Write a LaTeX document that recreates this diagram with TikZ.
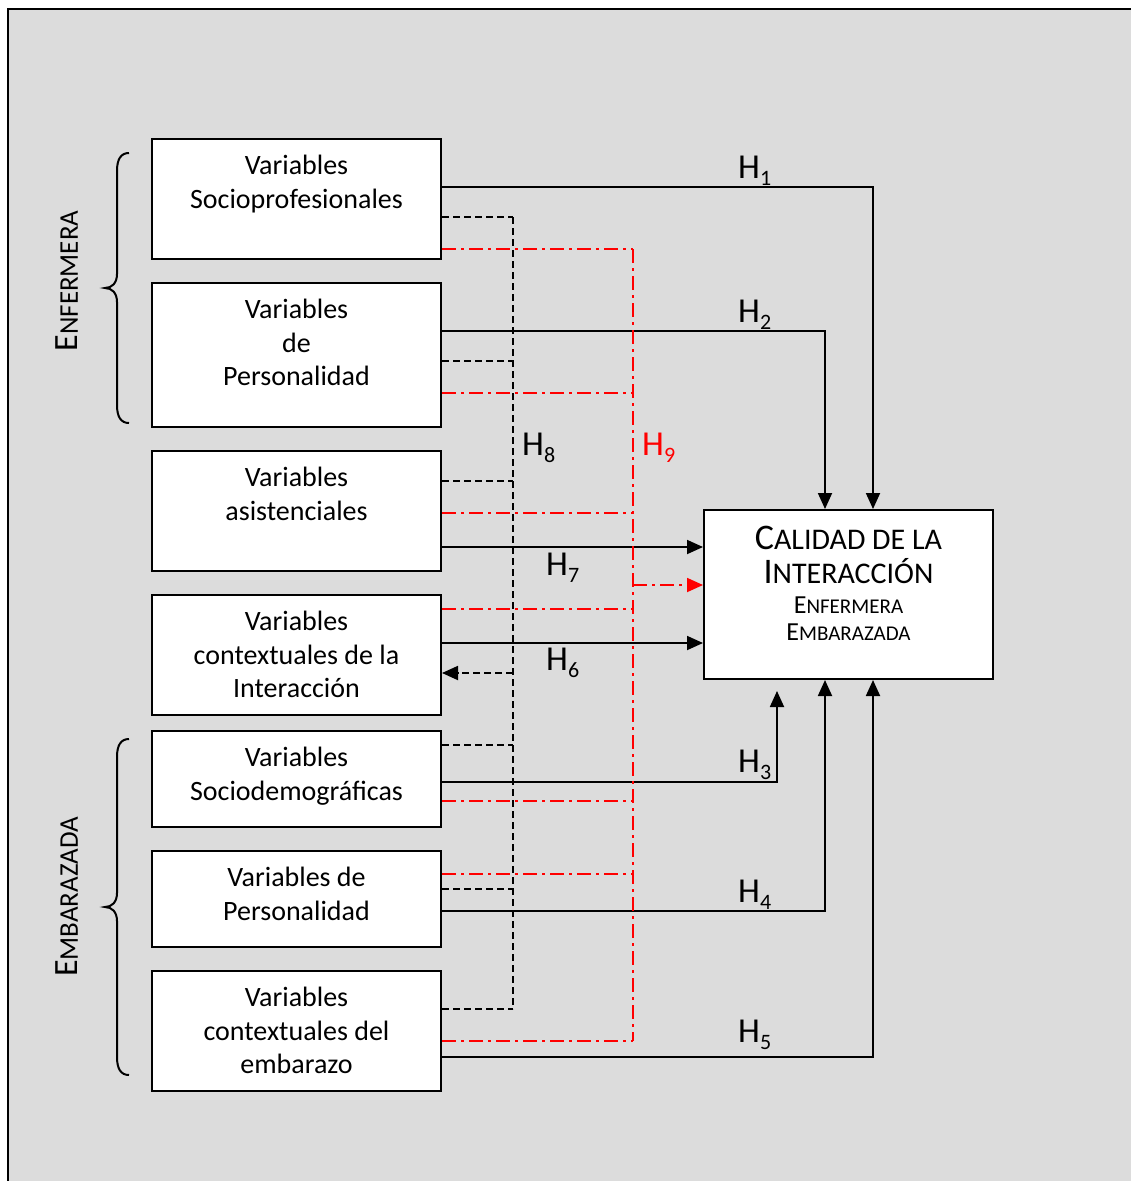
\documentclass[tikz,border=0pt]{standalone}
\usepackage{fontspec}
\setmainfont{Carlito}
\usetikzlibrary{arrows.meta}
\definecolor{panel}{RGB}{220,220,220}
% big first letter followed by smaller capitals
\newcommand{\capsmix}[4]{{\fontsize{#1}{#1}\selectfont #3}{\fontsize{#2}{#2}\selectfont #4}}
% hypothesis label with lowered index
\newcommand{\hyp}[1]{H\raisebox{-7pt}{\fontsize{22}{22}\selectfont #1}}
% curly brace: top y, tip y, bottom y
\newcommand{\leftbrace}[3]{%
  \draw[brace] (129,#1) .. controls (121,#1) and (117,{#1+6}) .. (117,{#1+18})
    -- (117,{#2-14}) .. controls (117,{#2-5}) and (112,#2) .. (105,#2)
    .. controls (112,#2) and (117,{#2+5}) .. (117,{#2+14})
    -- (117,{#3-18}) .. controls (117,{#3-6}) and (121,#3) .. (129,#3);}

\begin{document}
\begin{tikzpicture}[x=1pt,y=-1pt,
  varbox/.style={draw, line width=2pt, fill=white, minimum width=289pt, inner sep=0pt},
  boxtext/.style={anchor=north, align=center, inner sep=0pt, font=\fontsize{28}{33.5}\selectfont},
  conn/.style={line width=1.8pt},
  tip/.style={-{Triangle[length=16pt,width=14pt]}},
  dasheight/.style={line width=1.8pt, dash pattern=on 7pt off 4pt},
  dashnine/.style={line width=1.8pt, red, dash pattern=on 14pt off 5pt on 3pt off 5pt},
  hlabel/.style={font=\fontsize{35}{35}\selectfont, inner sep=0pt, anchor=base west},
  brace/.style={line width=2pt},
  sidelabel/.style={rotate=90, inner sep=0pt}
]
\useasboundingbox (0,0) rectangle (1131,1181);
\fill[panel] (8,9) rectangle (1160,1200);
\draw[line width=2pt] (8,1200) -- (8,9) -- (1160,9);

% variable boxes
\node[varbox, minimum height=120pt] (b1) at (296.5,199) {};
\node[varbox, minimum height=144pt] (b2) at (296.5,355) {};
\node[varbox, minimum height=120pt] (b3) at (296.5,511) {};
\node[varbox, minimum height=120pt] (b4) at (296.5,655) {};
\node[varbox, minimum height=96pt]  (b5) at (296.5,779) {};
\node[varbox, minimum height=96pt]  (b6) at (296.5,899) {};
\node[varbox, minimum height=120pt] (b7) at (296.5,1031) {};

\node[boxtext] (t1) at ([yshift=-17pt]b1.north) {Variables\\Socioprofesionales};
\node[boxtext] (t2) at ([yshift=-17pt]b2.north) {Variables\\de\\Personalidad};
\node[boxtext] (t3) at ([yshift=-17pt]b3.north) {Variables\\asistenciales};
\node[boxtext] (t4) at ([yshift=-17pt]b4.north) {Variables\\contextuales de la\\Interacción};
\node[boxtext] (t5) at ([yshift=-17pt]b5.north) {Variables\\Sociodemográficas};
\node[boxtext] (t6) at ([yshift=-17pt]b6.north) {Variables de\\Personalidad};
\node[boxtext] (t7) at ([yshift=-17pt]b7.north) {Variables\\contextuales del\\embarazo};

% outcome box
\node[varbox, minimum height=169pt] (cal) at (848.5,594.5) {};
\node[anchor=base, inner sep=0pt] (c1) at (848.5,549) {\capsmix{36}{30}{C}{ALIDAD DE LA}};
\node[anchor=base, inner sep=0pt] (c2) at (848.5,583) {\capsmix{36}{30}{I}{NTERACCIÓN}};
\node[anchor=base, inner sep=0pt] (c3) at (848.5,613) {\capsmix{26}{21}{E}{NFERMERA}};
\node[anchor=base, inner sep=0pt] (c4) at (848.5,640) {\capsmix{26}{21}{E}{MBARAZADA}};

% group braces and labels
\leftbrace{153}{288}{423}
\leftbrace{739}{907}{1075}
\node[sidelabel] (g1) at (67,281) {\capsmix{34}{27}{E}{NFERMERA}};
\node[sidelabel] (g2) at (67,897) {\capsmix{34}{27}{E}{MBARAZADA}};

% direct hypotheses
\draw[conn, tip] ([yshift=12pt]b1.east) -| ([xshift=24.5pt]cal.north);
\draw[conn, tip] ([yshift=24pt]b2.east) -| ([xshift=-23.5pt]cal.north);
\draw[conn, tip] ([yshift=-36pt]b3.east) -- ([yshift=-36pt]b3.east -| cal.west);
\draw[conn, tip] ([yshift=12pt]b4.east) -- ([yshift=12pt]b4.east -| cal.west);
\draw[conn, tip] ([yshift=-3pt]b5.east) -| ([xshift=-71.5pt,yshift=-11pt]cal.south);
\draw[conn, tip] ([yshift=-12pt]b6.east) -| ([xshift=-23.5pt]cal.south);
\draw[conn, tip] ([yshift=-26pt]b7.east) -| ([xshift=24.5pt]cal.south);

% H8 bus (dashed)
\coordinate (e8top) at (513,217);
\coordinate (e8bot) at (513,1009);
\draw[dasheight] (e8top) -- (e8bot);
\draw[dasheight] ([yshift=-18pt]b1.east) -- ([yshift=-18pt]b1.east -| e8top);
\draw[dasheight] ([yshift=-6pt]b2.east) -- ([yshift=-6pt]b2.east -| e8top);
\draw[dasheight] ([yshift=30pt]b3.east) -- ([yshift=30pt]b3.east -| e8top);
\draw[dasheight, tip] ([yshift=-18pt]b4.east -| e8top) -- ([yshift=-18pt]b4.east);
\draw[dasheight] ([yshift=34pt]b5.east) -- ([yshift=34pt]b5.east -| e8top);
\draw[dasheight] ([yshift=10pt]b6.east) -- ([yshift=10pt]b6.east -| e8top);
\draw[dasheight] ([yshift=22pt]b7.east) -- ([yshift=22pt]b7.east -| e8top);

% H9 bus (dash-dot, red)
\coordinate (e9top) at (633,249);
\coordinate (e9bot) at (633,1041);
\draw[dashnine] (e9top) -- (e9bot);
\draw[dashnine] ([yshift=-50pt]b1.east) -- ([yshift=-50pt]b1.east -| e9top);
\draw[dashnine] ([yshift=-38pt]b2.east) -- ([yshift=-38pt]b2.east -| e9top);
\draw[dashnine] ([yshift=-2pt]b3.east) -- ([yshift=-2pt]b3.east -| e9top);
\draw[dashnine] ([yshift=46pt]b4.east) -- ([yshift=46pt]b4.east -| e9top);
\draw[dashnine] ([yshift=-22pt]b5.east) -- ([yshift=-22pt]b5.east -| e9top);
\draw[dashnine] ([yshift=25pt]b6.east) -- ([yshift=25pt]b6.east -| e9top);
\draw[dashnine] ([yshift=-10pt]b7.east) -- ([yshift=-10pt]b7.east -| e9top);
\draw[dashnine, tip] ([yshift=9.5pt]cal.west -| e9top) -- ([yshift=9.5pt]cal.west);

% hypothesis labels
\node[hlabel] (h1) at (738,178) {\hyp{1}};
\node[hlabel] (h2) at (738,322) {\hyp{2}};
\node[hlabel] (h3) at (738,772) {\hyp{3}};
\node[hlabel] (h4) at (738,902) {\hyp{4}};
\node[hlabel] (h5) at (738,1042) {\hyp{5}};
\node[hlabel] (h6) at (546,670) {\hyp{6}};
\node[hlabel] (h7) at (546,575) {\hyp{7}};
\node[hlabel] (h8) at (522,455) {\hyp{8}};
\node[hlabel, text=red] (h9) at (642,455) {\hyp{9}};
\end{tikzpicture}
\end{document}
